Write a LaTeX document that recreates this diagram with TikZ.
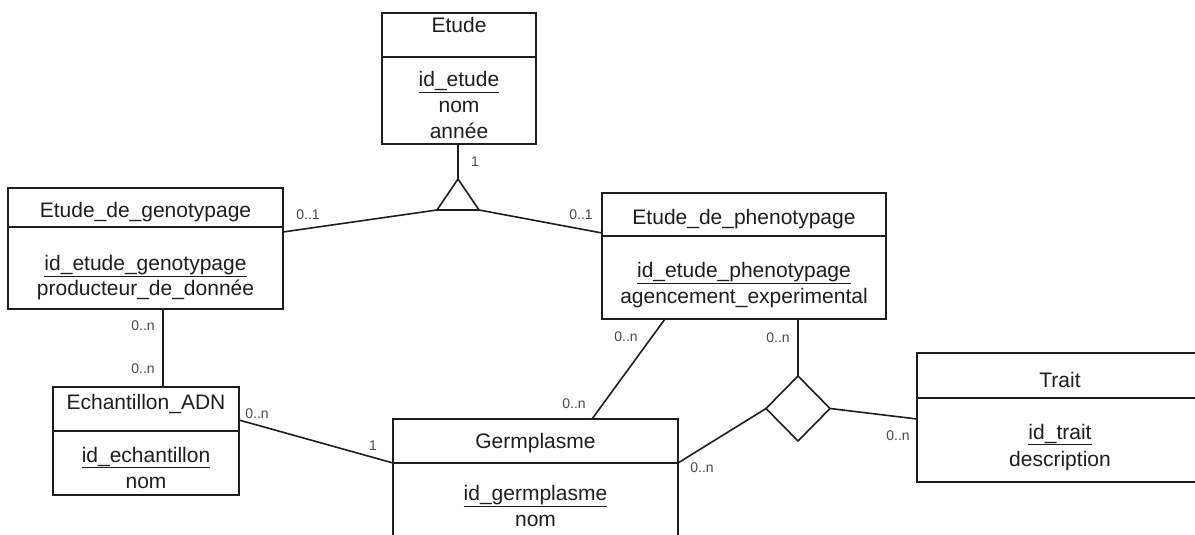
\documentclass[tikz,border=0pt]{standalone}
\usepackage{fontspec}
\setmainfont{Liberation Sans}
\usetikzlibrary{shapes.geometric}
\definecolor{ink}{HTML}{1E1E1E}
\definecolor{lbl}{HTML}{4A4A4A}
\begin{document}
\begin{tikzpicture}[x=1pt,y=-1pt,
  box/.style={draw=ink, line width=1.6pt, inner sep=0pt, outer sep=0pt, anchor=north west},
  txt/.style={anchor=base, inner sep=0pt, text=ink, font=\fontsize{21}{25}\selectfont},
  card/.style={anchor=center, inner sep=0pt, text=lbl, font=\fontsize{14}{16}\selectfont},
  link/.style={draw=ink, line width=1.6pt}]
\useasboundingbox (0,0) rectangle (1195,535);
\clip (0,0) rectangle (1195,535);
\fill[white] (0,0) rectangle (1195,535);

% Etude
\node[box, minimum width=154pt, minimum height=131pt] (etude) at (382,13) {};
\draw[link] (382,57) -- (536,57);
\node[txt] (etudeT) at (459,33) {Etude};
\node[txt] (etudeA1) at (459,87) {\underline{id\_etude}};
\node[txt] (etudeA2) at (459,113) {nom};
\node[txt] (etudeA3) at (459,139) {année};

% Etude_de_genotypage
\node[box, minimum width=275pt, minimum height=121pt] (geno) at (8,188) {};
\draw[link] (8,227) -- (283,227);
\node[txt] (genoT) at (145.5,217) {Etude\_de\_genotypage};
\node[txt] (genoA1) at (145.5,270) {\underline{id\_etude\_genotypage}};
\node[txt] (genoA2) at (145.5,295) {producteur\_de\_donnée};

% Etude_de_phenotypage
\node[box, minimum width=284pt, minimum height=126pt] (pheno) at (602,193) {};
\draw[link] (602,236) -- (886,236);
\node[txt] (phenoT) at (744,224) {Etude\_de\_phenotypage};
\node[txt] (phenoA1) at (744,277) {\underline{id\_etude\_phenotypage}};
\node[txt] (phenoA2) at (744,303) {agencement\_experimental};

% Echantillon_ADN
\node[box, minimum width=186pt, minimum height=108pt] (echan) at (53,387) {};
\draw[link] (53,431) -- (239,431);
\node[txt] (echanT) at (146,409) {Echantillon\_ADN};
\node[txt] (echanA1) at (146,462) {\underline{id\_echantillon}};
\node[txt] (echanA2) at (146,488) {nom};

% Germplasme
\node[box, minimum width=285pt, minimum height=150pt] (germ) at (393,419) {};
\draw[link] (393,463) -- (678,463);
\node[txt] (germT) at (535.5,448) {Germplasme};
\node[txt] (germA1) at (535.5,500) {\underline{id\_germplasme}};
\node[txt] (germA2) at (535.5,526) {nom};

% Trait
\node[box, minimum width=286pt, minimum height=129pt] (trait) at (917,353) {};
\draw[link] (917,398) -- (1203,398);
\node[txt] (traitT) at (1060,387) {Trait};
\node[txt] (traitA1) at (1060,439) {\underline{id\_trait}};
\node[txt] (traitA2) at (1060,466) {description};

% specialisation triangle
\coordinate (tA) at (458,179);
\coordinate (tL) at (437,210);
\coordinate (tR) at (479,210);
\draw[link, line join=miter] (tA) -- (tL) -- (tR) -- cycle;

% relation diamond
\node[draw=ink, line width=1.6pt, diamond, aspect=1, minimum width=64pt, minimum height=65pt, inner sep=0pt, outer sep=0pt] (rel) at (798,408.5) {};

% attachment points
\coordinate (etudeS) at (458,144);
\coordinate (genoE) at (283,232);
\coordinate (phenoW) at (602,233);
\coordinate (genoS) at (163,309);
\coordinate (echanN) at (163,387);
\coordinate (echanE) at (239,420);
\coordinate (germW) at (393,463);
\coordinate (phenoS1) at (665,319);
\coordinate (germN) at (592,419);
\coordinate (phenoS2) at (798,319);
\coordinate (germE) at (678,463);
\coordinate (traitW) at (917,419);

% connectors
\draw[link] (etudeS) -- (tA);
\draw[link] (tL) -- (genoE);
\draw[link] (tR) -- (phenoW);
\draw[link] (genoS) -- (echanN);
\draw[link] (echanE) -- (germW);
\draw[link] (phenoS1) -- (germN);
\draw[link] (phenoS2) -- (rel.north);
\draw[link] (rel.west) -- (germE);
\draw[link] (rel.east) -- (traitW);

% cardinalities
\node[card] (c1) at (475,162) {1};
\node[card] (c2) at (308,215) {0..1};
\node[card] (c3) at (581,215) {0..1};
\node[card] (c4) at (143,326) {0..n};
\node[card] (c5) at (143,369) {0..n};
\node[card] (c6) at (257,414) {0..n};
\node[card] (c7) at (373,446) {1};
\node[card] (c8) at (626,337) {0..n};
\node[card] (c9) at (574,404) {0..n};
\node[card] (c10) at (778,338) {0..n};
\node[card] (c11) at (702,468) {0..n};
\node[card] (c12) at (898,436) {0..n};
\end{tikzpicture}
\end{document}
